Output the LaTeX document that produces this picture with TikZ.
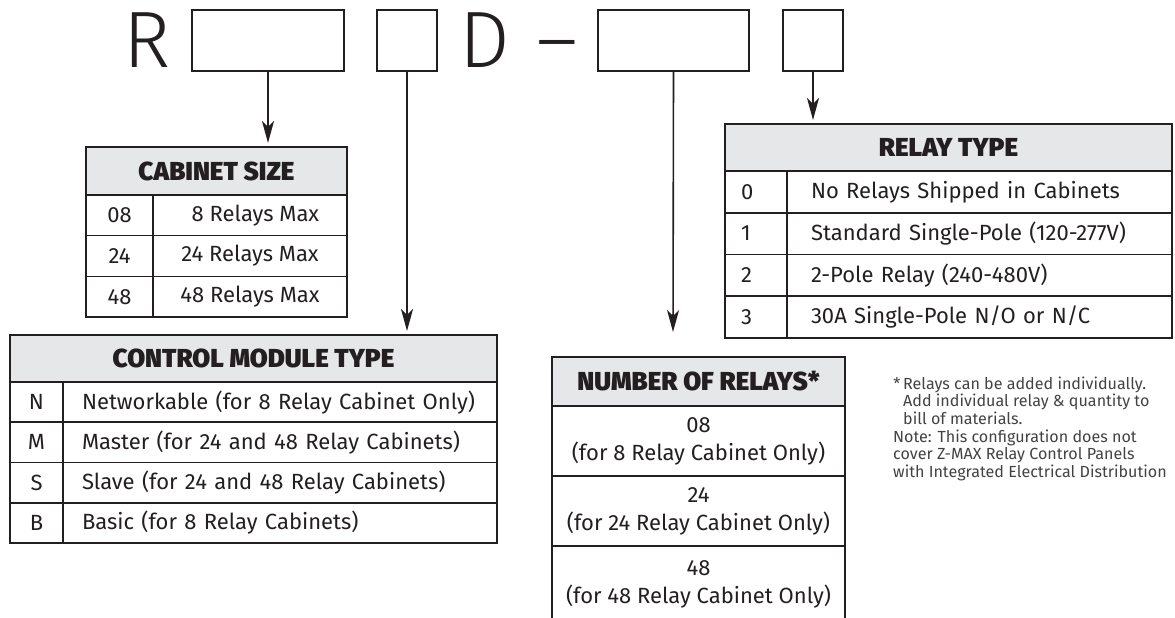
\documentclass[tikz,border=0pt]{standalone}
\usepackage{fontspec}
\setmainfont{Fira Sans}
\newfontfamily\headfont{Fira Sans Black}
\newfontfamily\bigfont{Fira Sans Light}
\usetikzlibrary{positioning, arrows.meta}
\definecolor{ink}{HTML}{231F20}
\definecolor{hdrgray}{HTML}{E6E7E8}

\begin{document}
\begin{tikzpicture}[
    x=1pt, y=-1pt,
    node distance=0pt,
    every node/.style={text=ink},
    bigletter/.style={font=\bigfont\fontsize{80}{80}\selectfont, inner sep=0pt},
    slot/.style={rectangle, draw=ink, line width=1.5pt, minimum height=61pt, inner sep=0pt},
    cell/.style={rectangle, draw=ink, line width=1.6pt, inner sep=0pt, outer sep=0pt,
        font=\fontsize{22}{26}\selectfont},
    hdr/.style={cell, fill=hdrgray, font=\headfont\fontsize{26}{26}\selectfont},
    leftcell/.style={cell, align=left},
    frame/.style={draw=ink, line width=2.6pt},
    feed/.style={draw=ink, line width=1.6pt, shorten >=4pt,
        -{Stealth[length=22pt, width=12pt, inset=6pt]}},
    note/.style={font=\fontsize{16.1}{17.2}\selectfont, align=left, inner sep=0pt, text=ink!85}
]
\useasboundingbox (0,0) rectangle (1175,618);

% Part number
\node[bigletter, anchor=base] (lR) at (147,67) {R};
\node[slot, minimum width=152pt] (s1) at (268,40.5) {};
\node[slot, minimum width=60pt] (s2) at (407,40.5) {};
\node[bigletter, anchor=base] (lD) at (485,67) {D};
\node[bigletter, anchor=base] (lDash) at (557,67) {–};
\node[slot, minimum width=151pt] (s3) at (673.5,40.5) {};
\node[slot, minimum width=60pt] (s4) at (813,40.5) {};

% Cabinet size
\node[hdr, minimum width=261pt, minimum height=48pt] (cab) at (216.5,171) {CABINET SIZE};
\node[cell, minimum width=67pt, minimum height=40.67pt, below right=of cab.south west] (cab1) {08};
\node[cell, minimum width=67pt, minimum height=40.67pt, below=of cab1] (cab2) {24};
\node[cell, minimum width=67pt, minimum height=40.67pt, below=of cab2] (cab3) {48};
\node[cell, minimum width=194pt, minimum height=40.67pt, right=of cab1] (cab1d) {\phantom{2}8 Relays Max};
\node[cell, minimum width=194pt, minimum height=40.67pt, right=of cab2] (cab2d) {24 Relays Max};
\node[cell, minimum width=194pt, minimum height=40.67pt, right=of cab3] (cab3d) {48 Relays Max};
\draw[frame] (cab.north west) rectangle (cab3d.south east);

% Control module type
\node[hdr, minimum width=487pt, minimum height=47pt] (ctl) at (253.5,358.5) {CONTROL MODULE TYPE};
\node[cell, minimum width=53pt, minimum height=40.25pt, below right=of ctl.south west] (ctl1) {N};
\node[cell, minimum width=53pt, minimum height=40.25pt, below=of ctl1] (ctl2) {M};
\node[cell, minimum width=53pt, minimum height=40.25pt, below=of ctl2] (ctl3) {S};
\node[cell, minimum width=53pt, minimum height=40.25pt, below=of ctl3] (ctl4) {B};
\node[leftcell, text width=396pt, inner xsep=19pt, minimum height=40.25pt, right=of ctl1] (ctl1d) {Networkable (for 8 Relay Cabinet Only)};
\node[leftcell, text width=396pt, inner xsep=19pt, minimum height=40.25pt, right=of ctl2] (ctl2d) {Master (for 24 and 48 Relay Cabinets)};
\node[leftcell, text width=396pt, inner xsep=19pt, minimum height=40.25pt, right=of ctl3] (ctl3d) {Slave (for 24 and 48 Relay Cabinets)};
\node[leftcell, text width=396pt, inner xsep=19pt, minimum height=40.25pt, right=of ctl4] (ctl4d) {Basic (for 8 Relay Cabinets)};
\draw[frame] (ctl.north west) rectangle (ctl4d.south east);

% Number of relays
\node[hdr, minimum width=293pt, minimum height=49pt] (nr) at (698.5,381.5) {NUMBER OF RELAYS*};
\node[cell, align=center, font=\fontsize{22}{28}\selectfont, minimum width=293pt, minimum height=70pt, below=of nr] (nr1) {08\\(for 8 Relay Cabinet Only)};
\node[cell, align=center, font=\fontsize{22}{28}\selectfont, minimum width=293pt, minimum height=70pt, below=of nr1] (nr2) {24\\(for 24 Relay Cabinet Only)};
\node[cell, align=center, font=\fontsize{22}{28}\selectfont, minimum width=293pt, minimum height=76pt, below=of nr2] (nr3) {48\\(for 48 Relay Cabinet Only)};
\draw[frame] (nr.north west) rectangle (nr3.south east);

% Relay type
\node[hdr, minimum width=447pt, minimum height=47pt] (rly) at (948.5,147.5) {RELAY TYPE};
\node[leftcell, text width=30pt, inner xsep=16pt, minimum height=41.75pt, below right=of rly.south west] (rly1) {0};
\node[leftcell, text width=30pt, inner xsep=16pt, minimum height=41.75pt, below=of rly1] (rly2) {1};
\node[leftcell, text width=30pt, inner xsep=16pt, minimum height=41.75pt, below=of rly2] (rly3) {2};
\node[leftcell, text width=30pt, inner xsep=16pt, minimum height=41.75pt, below=of rly3] (rly4) {3};
\node[leftcell, text width=337pt, inner xsep=24pt, minimum height=41.75pt, right=of rly1] (rly1d) {No Relays Shipped in Cabinets};
\node[leftcell, text width=337pt, inner xsep=24pt, minimum height=41.75pt, right=of rly2] (rly2d) {Standard Single-Pole (120-277V)};
\node[leftcell, text width=337pt, inner xsep=24pt, minimum height=41.75pt, right=of rly3] (rly3d) {2-Pole Relay (240-480V)};
\node[leftcell, text width=337pt, inner xsep=24pt, minimum height=41.75pt, right=of rly4] (rly4d) {30A Single-Pole N/O or N/C};
\draw[frame] (rly.north west) rectangle (rly4d.south east);

% Notes
\node[note, anchor=north west] (fn) at (903,377) {\llap{*\,}Relays can be added individually.\\Add individual relay \& quantity to\\bill of materials.};
\node[note, anchor=north west] (cfg) at (893,430) {Note: This configuration does not\\cover Z-MAX Relay Control Panels\\with Integrated Electrical Distribution};

% Arrows
\coordinate (nrtip) at (673,336);
\draw[feed] (s1.south) -- (s1.south |- cab.north);
\draw[feed] (s2.south) -- (s2.south |- ctl.north);
\draw[feed] (s3.south) -- (nrtip);
\draw[feed] (s4.south) -- (s4.south |- rly.north);

\end{tikzpicture}
\end{document}
